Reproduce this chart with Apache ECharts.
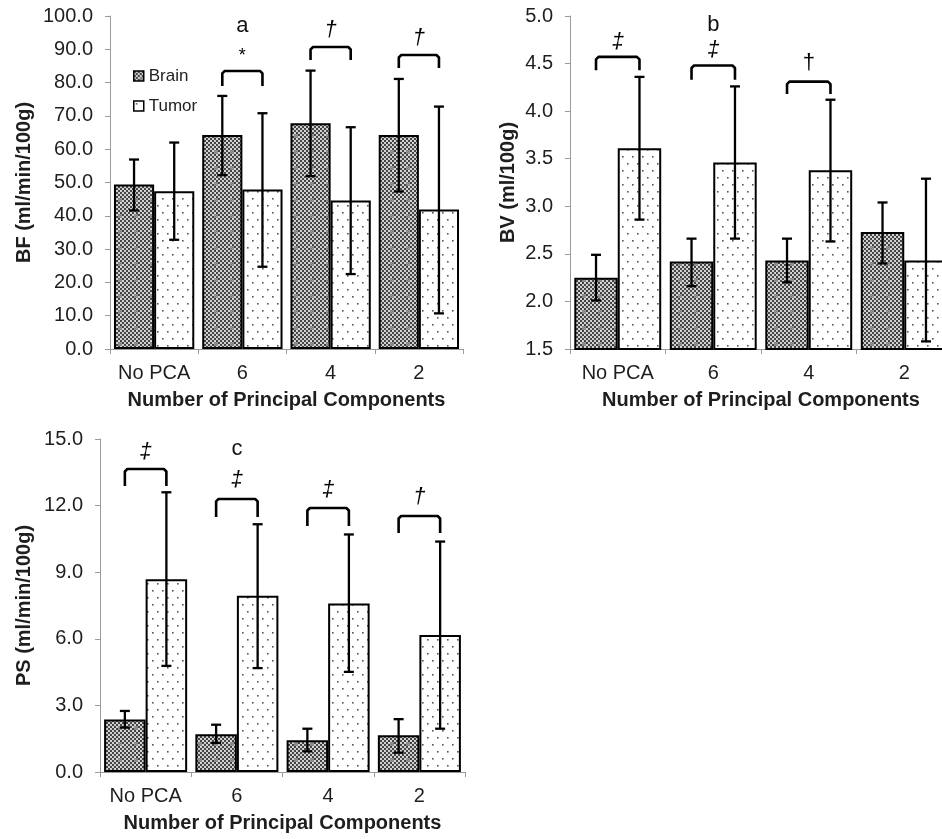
<!DOCTYPE html>
<html>
<head>
<meta charset="utf-8">
<script src="https://cdn.jsdelivr.net/npm/echarts@6/dist/echarts.min.js"></script>
<style>
html,body{margin:0;padding:0;background:#fff;}
#chart{width:942px;height:839px;}
</style>
</head>
<body>
<div id="chart"></div>
<script>
// ---------- data ----------
const categories = ['No PCA', '6', '4', '2'];
const seriesNames = ['Brain', 'Tumor'];

// BF (ml/min/100g)
const bfBrain      = [49.4, 64.3, 67.8, 64.3];
const bfBrainLow   = [41.6, 52.2, 51.9, 47.3];
const bfBrainHigh  = [56.9, 76.0, 83.6, 81.1];
const bfTumor      = [47.4, 47.9, 44.6, 41.9];
const bfTumorLow   = [32.8, 24.7, 22.5, 10.7];
const bfTumorHigh  = [62.0, 70.8, 66.6, 72.8];
const bfBracketTop = [null, 83.5, 90.7, 88.3];
const bfBracketLeg = [null, 79.0, 86.8, 84.4];
const bfSig        = ['', '*', '†', '†'];
const bfSigY       = [null, 88.0, 95.8, 93.4];
const bfLetter     = ['', 'a', '', ''];
const bfLetterY    = [null, 96.9, null, null];

// BV (ml/100g)
const bvBrain      = [2.25, 2.42, 2.43, 2.73];
const bvBrainLow   = [2.01, 2.16, 2.20, 2.40];
const bvBrainHigh  = [2.49, 2.66, 2.66, 3.04];
const bvTumor      = [3.61, 3.46, 3.38, 2.43];
const bvTumorLow   = [2.86, 2.66, 2.63, 1.58];
const bvTumorHigh  = [4.36, 4.26, 4.12, 3.29];
const bvBracketTop = [4.57, 4.48, 4.31, null];
const bvBracketLeg = [4.43, 4.33, 4.18, null];
const bvSig        = ['‡', '‡', '†', ''];
const bvSigY       = [4.73, 4.64, 4.51, null];
const bvLetter     = ['', 'b', '', ''];
const bvLetterY    = [null, 4.91, null, null];

// PS (ml/min/100g)
const psBrain      = [2.37, 1.70, 1.43, 1.65];
const psBrainLow   = [2.00, 1.31, 0.93, 0.87];
const psBrainHigh  = [2.75, 2.13, 1.95, 2.38];
const psTumor      = [8.68, 7.94, 7.59, 6.17];
const psTumorLow   = [4.78, 4.68, 4.51, 1.95];
const psTumorHigh  = [12.60, 11.16, 10.70, 10.38];
const psBracketTop = [13.65, 12.30, 11.89, 11.53];
const psBracketLeg = [12.88, 11.49, 11.08, 10.77];
const psSig        = ['‡', '‡', '‡', '†'];
const psSigY       = [14.41, 13.15, 12.70, 12.39];
const psLetter     = ['', 'c', '', ''];
const psLetterY    = [null, 14.55, null, null];

// y axis ticks
const bfTicks = {min: 0, max: 100, interval: 10};
const bvTicks = {min: 1.5, max: 5.0, interval: 0.5};
const psTicks = {min: 0, max: 15, interval: 3};

const bfTitle = 'BF (ml/min/100g)';
const bvTitle = 'BV (ml/100g)';
const psTitle = 'PS (ml/min/100g)';
const xTitle = 'Number of Principal Components';

// ---------- styles ----------
const FONT = '"Liberation Sans", Arial, sans-serif';
const GAP = 0.09;
const AXIS_GREY = '#9a9a9a';
const TEXT = '#1e1e1e';

function makeBrainPattern() {
  const c = document.createElement('canvas');
  c.width = 16; c.height = 16;
  const g = c.getContext('2d');
  for (let y = 0; y < 16; y += 2) {
    for (let x = 0; x < 16; x += 2) {
      g.fillStyle = ((x + y) / 2) % 2 === 0 ? '#444444' : '#d2d2d2';
      g.fillRect(x, y, 2, 2);
    }
  }
  g.fillStyle = '#8c8c8c';
  g.fillRect(6, 6, 4, 4);
  return c;
}
function makeTumorPattern() {
  const c = document.createElement('canvas');
  c.width = 10; c.height = 14;
  const g = c.getContext('2d');
  g.fillStyle = '#ffffff';
  g.fillRect(0, 0, 10, 14);
  g.fillStyle = '#555555';
  g.fillRect(2, 2, 1.6, 1.6);
  g.fillRect(7, 9, 1.6, 1.6);
  return c;
}
const brainFill = {image: makeBrainPattern(), repeat: 'repeat'};
const tumorFill = {image: makeTumorPattern(), repeat: 'repeat'};

const panels = [
  {grid: {left: 110, top: 16, width: 353, height: 333}, ticks: bfTicks, title: bfTitle, nameGap: 76,
   brain: bfBrain, brainLow: bfBrainLow, brainHigh: bfBrainHigh,
   tumor: bfTumor, tumorLow: bfTumorLow, tumorHigh: bfTumorHigh,
   bTop: bfBracketTop, bLeg: bfBracketLeg, sig: bfSig, sigY: bfSigY, letter: bfLetter, letterY: bfLetterY,
   italic: [false, false, true, true]},
  {grid: {left: 570, top: 16, width: 382, height: 333}, ticks: bvTicks, title: bvTitle, nameGap: 52,
   brain: bvBrain, brainLow: bvBrainLow, brainHigh: bvBrainHigh,
   tumor: bvTumor, tumorLow: bvTumorLow, tumorHigh: bvTumorHigh,
   bTop: bvBracketTop, bLeg: bvBracketLeg, sig: bvSig, sigY: bvSigY, letter: bvLetter, letterY: bvLetterY,
   italic: [true, true, false, false]},
  {grid: {left: 100, top: 439, width: 365, height: 333}, ticks: psTicks, title: psTitle, nameGap: 66,
   brain: psBrain, brainLow: psBrainLow, brainHigh: psBrainHigh,
   tumor: psTumor, tumorLow: psTumorLow, tumorHigh: psTumorHigh,
   bTop: psBracketTop, bLeg: psBracketLeg, sig: psSig, sigY: psSigY, letter: psLetter, letterY: psLetterY,
   italic: [true, true, true, true]}
];

const grids = [], xAxes = [], yAxes = [], series = [];

panels.forEach((p, k) => {
  grids.push(Object.assign({containLabel: false, outerBoundsMode: 'none'}, p.grid));
  xAxes.push({
    type: 'category', gridIndex: k, data: categories,
    axisLine: {show: true, lineStyle: {color: AXIS_GREY, width: 1}},
    axisTick: {show: true, length: 5, lineStyle: {color: AXIS_GREY}},
    axisLabel: {fontSize: 20, fontFamily: FONT, color: TEXT, margin: 14, interval: 0, hideOverlap: false},
    splitLine: {show: false},
    name: xTitle, nameLocation: 'middle', nameGap: 41,
    nameTextStyle: {fontSize: 20, fontWeight: 'bold', fontFamily: FONT, color: TEXT}
  });
  yAxes.push({
    type: 'value', gridIndex: k, min: p.ticks.min, max: p.ticks.max, interval: p.ticks.interval,
    axisLine: {show: true, lineStyle: {color: AXIS_GREY, width: 1}},
    axisTick: {show: true, length: 5, lineStyle: {color: AXIS_GREY}},
    axisLabel: {fontSize: 20, fontFamily: FONT, color: TEXT, margin: 17,
                formatter: v => v.toFixed(1)},
    splitLine: {show: false},
    name: p.title, nameLocation: 'middle', nameRotate: 90, nameGap: p.nameGap,
    nameTextStyle: {fontSize: 20, fontWeight: 'bold', fontFamily: FONT, color: TEXT}
  });

  series.push({
    name: 'Brain', type: 'bar', xAxisIndex: k, yAxisIndex: k, data: p.brain,
    barGap: '0%', barCategoryGap: (GAP * 100) + '%',
    itemStyle: {color: brainFill, borderColor: '#000', borderWidth: 2},
    emphasis: {disabled: true}, z: 2
  });
  series.push({
    name: 'Tumor', type: 'bar', xAxisIndex: k, yAxisIndex: k, data: p.tumor,
    barGap: '0%', barCategoryGap: (GAP * 100) + '%',
    itemStyle: {color: tumorFill, borderColor: '#000', borderWidth: 2},
    emphasis: {disabled: true}, z: 2
  });

  // error bars
  const errData = [];
  categories.forEach((c, i) => {
    errData.push([i, 0, p.brainLow[i], p.brainHigh[i]]);
    errData.push([i, 1, p.tumorLow[i], p.tumorHigh[i]]);
  });
  series.push({
    type: 'custom', xAxisIndex: k, yAxisIndex: k, data: errData, z: 5, silent: true,
    encode: {x: 0, y: [2, 3]}, clip: false,
    renderItem: (params, api) => {
      const i = api.value(0), g = api.value(1);
      const band = api.size([1, 0])[0];
      const bw = band * (1 - GAP) / 2;
      const lo = api.coord([i, api.value(2)]);
      const hi = api.coord([i, api.value(3)]);
      const x = lo[0] + (g === 0 ? -bw / 2 : bw / 2);
      const cap = 5;
      const st = {stroke: '#000', lineWidth: 2.3};
      return {type: 'group', children: [
        {type: 'line', shape: {x1: x, y1: lo[1], x2: x, y2: hi[1]}, style: st},
        {type: 'line', shape: {x1: x - cap, y1: lo[1], x2: x + cap, y2: lo[1]}, style: st},
        {type: 'line', shape: {x1: x - cap, y1: hi[1], x2: x + cap, y2: hi[1]}, style: st}
      ]};
    }
  });

  // significance brackets, symbols and letters
  const annData = categories.map((c, i) => [i, p.bTop[i] == null ? p.ticks.min : p.bTop[i]]);
  series.push({
    type: 'custom', xAxisIndex: k, yAxisIndex: k, data: annData, z: 6, silent: true,
    encode: {x: 0, y: 1}, clip: false,
    renderItem: (params, api) => {
      const i = params.dataIndex;
      const band = api.size([1, 0])[0];
      const bw = band * (1 - GAP) / 2;
      const children = [];
      const center = api.coord([i, p.ticks.min])[0];
      if (p.bTop[i] != null) {
        const yt = api.coord([i, p.bTop[i]])[1];
        const yl = api.coord([i, p.bLeg[i]])[1];
        const x1 = center - bw / 2, x2 = center + bw / 2;
        children.push({type: 'polyline',
          shape: {points: [[x1, yl], [x1, yt + 2.5], [x1 + 2.5, yt], [x2 - 2.5, yt], [x2, yt + 2.5], [x2, yl]]},
          style: {stroke: '#000', lineWidth: 2.6, fill: null, lineJoin: 'round'}});
      }
      if (p.sig[i]) {
        const ys = api.coord([i, p.sigY[i]])[1];
        const isStar = p.sig[i] === '*';
        children.push({type: 'text', style: {
          text: p.sig[i], x: center, y: ys, align: 'center', verticalAlign: 'middle',
          font: (p.italic[i] ? 'italic ' : '') + (isStar ? '18px ' : '22px ') + FONT, fill: '#000'}});
      }
      if (p.letter[i]) {
        const ya = api.coord([i, p.letterY[i]])[1];
        children.push({type: 'text', style: {
          text: p.letter[i], x: center, y: ya, align: 'center', verticalAlign: 'middle',
          font: '22px ' + FONT, fill: '#111'}});
      }
      return {type: 'group', children};
    }
  });
});

const chart = echarts.init(document.getElementById('chart'), null, {renderer: 'canvas'});
chart.setOption({
  animation: false,
  backgroundColor: '#ffffff',
  grid: grids,
  xAxis: xAxes,
  yAxis: yAxes,
  legend: {
    data: seriesNames, orient: 'vertical', left: 128, top: 62,
    itemWidth: 10, itemHeight: 10, itemGap: 12, selectedMode: false,
    icon: 'rect',
    itemStyle: {borderColor: '#000', borderWidth: 1.5},
    textStyle: {fontSize: 17, fontFamily: FONT, color: '#222', lineHeight: 18, padding: [0, 0, 0, 0]}
  },
  series
});
</script>
</body>
</html>
